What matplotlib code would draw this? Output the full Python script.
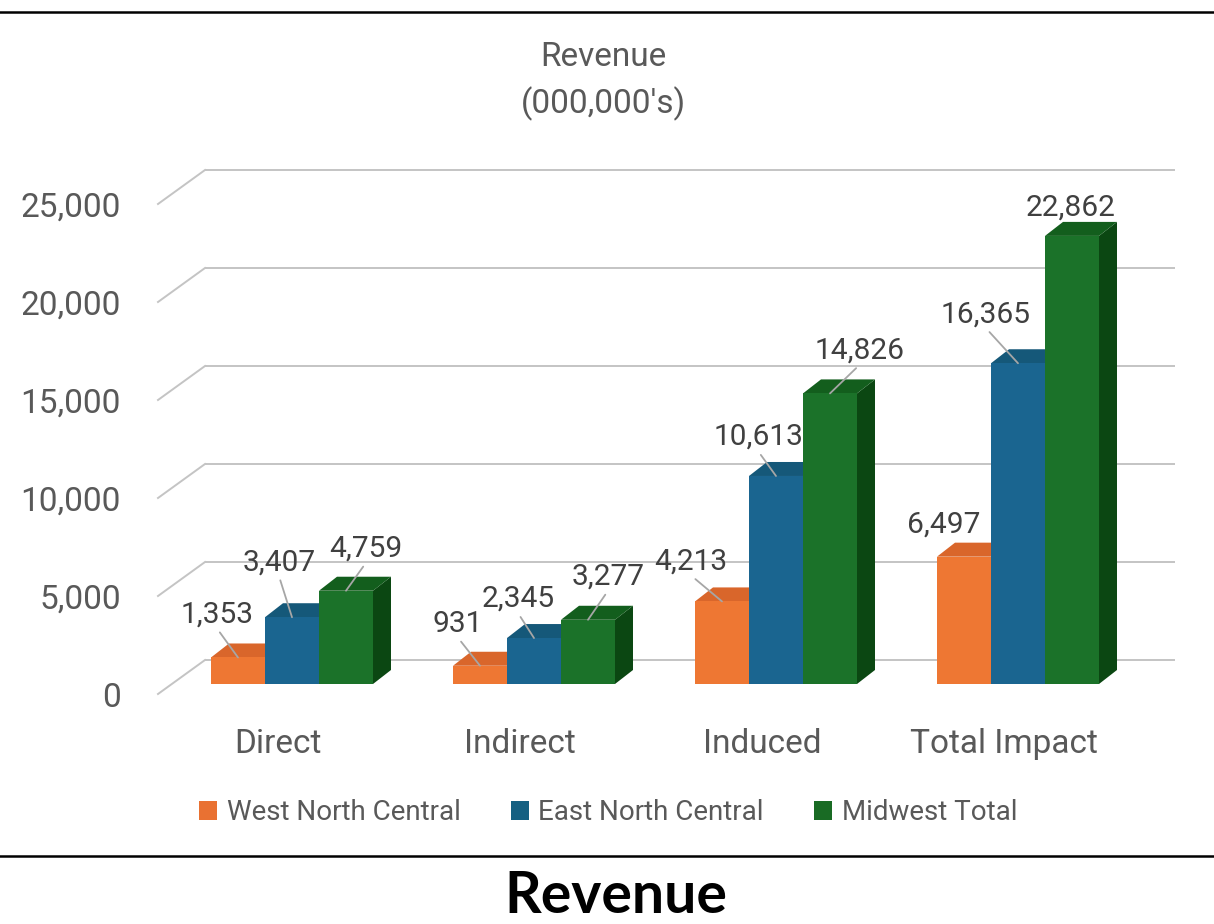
import numpy as np
import matplotlib.pyplot as plt
from matplotlib.patches import Polygon, Patch
from matplotlib.lines import Line2D

plt.rcParams['font.family'] = ['Roboto', 'DejaVu Sans']

# data
categories = ['Direct', 'Indirect', 'Induced', 'Total Impact']
series = ['West North Central', 'East North Central', 'Midwest Total']
west = [1353, 931, 4213, 6497]
east = [3407, 2345, 10613, 16365]
midwest = [4759, 3277, 14826, 22862]
yticks = [0, 5000, 10000, 15000, 20000, 25000]

# colours: front / top / side face of each series
c_front = ['#EE7733', '#1A6590', '#1B7229']
c_top = ['#D9662B', '#155879', '#135E1D']
c_side = ['#B8531F', '#0E3F5A', '#0B4712']
legend_c = ['#E97132', '#156082', '#196B24']

# label centre offsets (pixels, up positive) from each bar's top front centre
lab_off = [
    [(-21, 45), (-13, 57), (20, 44)],
    [(-22, 44), (-16, 41), (20, 45)],
    [(-31, 42), (-18, 41), (30, 45)],
    [(-20, 34), (-32, 51), (-1, 30)],
]
leader = [[1, 1, 1], [1, 1, 1], [1, 1, 1], [0, 1, 0]]

W, H = 1214, 924
fig = plt.figure(figsize=(W / 100, H / 100), dpi=100)
ax = fig.add_axes([0, 0, 1, 1])

# pixel layout -> data units
SP = 242.0          # px per category
K = 0.0196          # px per revenue unit
X0, Y0 = 292, 684   # px of cluster 0 centre / zero at bar front
ax.set_xlim((0 - X0) / SP, (W - X0) / SP)
ax.set_ylim((Y0 - H) / K, Y0 / K)
ax.axis('off')

def off(dx, dy):
    # pixel offset (x right, y down) to data offset
    return dx / SP, -dy / K

bw = 54 / SP
dep = off(18, -14)      # bar depth
wall = off(33, -24)     # back wall from bar front
front = off(-14, 10)    # floor front edge from bar front
wall_l = (205 - X0) / SP
wall_r = (1175 - X0) / SP

# gridlines on back wall + diagonal on left side
for v in yticks:
    yb = v + wall[1]
    ax.plot([wall_l, wall_r], [yb, yb], color='#C4C4C4', lw=1.4, zorder=1,
            solid_capstyle='butt')
    fx = wall_l - wall[0] + front[0]
    fy = v + front[1]
    ax.plot([wall_l, fx], [yb, fy], color='#C4C4C4', lw=1.4, zorder=1)
    ax.annotate(f'{v:,}', xy=(fx, fy), xytext=(-37, -13), textcoords='offset pixels',
                ha='right', va='baseline', fontsize=24, color='#595959')

# bars
vals = [west, east, midwest]
for i in range(len(categories)):
    for j in range(3):
        v = vals[j][i]
        x0 = i - 1.5 * bw + j * bw
        x1 = x0 + bw
        fr = Polygon([(x0, 0), (x1, 0), (x1, v), (x0, v)], closed=True,
                     fc=c_front[j], ec='none', zorder=2 + j)
        tp = Polygon([(x0, v), (x1, v), (x1 + dep[0], v + dep[1]), (x0 + dep[0], v + dep[1])],
                     closed=True, fc=c_top[j], ec='none', zorder=2 + j)
        sd = Polygon([(x1, 0), (x1 + dep[0], dep[1]), (x1 + dep[0], v + dep[1]), (x1, v)],
                     closed=True, fc=c_side[j], ec='none', zorder=2 + j)
        for p in (sd, tp, fr):
            ax.add_patch(p)
        dx, dy = lab_off[i][j]
        props = None
        if leader[i][j]:
            props = dict(arrowstyle='-', color='#A6A6A6', lw=1.3, relpos=(0.5, 0),
                         shrinkA=1, shrinkB=0)
        ax.annotate(f'{v:,}', xy=(x0 + bw / 2, v), xytext=(dx, dy - 10),
                    textcoords='offset pixels', ha='center', va='baseline',
                    fontsize=21.5, color='#404040', arrowprops=props, zorder=10)

# category labels
for i, c in enumerate(categories):
    ax.annotate(c, xy=(i + front[0], front[1]), xytext=(0, -59), textcoords='offset pixels',
                ha='center', va='baseline', fontsize=24, color='#595959')

# chart title
fig.text(603 / W, 1 - 66 / H, 'Revenue', ha='center', va='baseline', fontsize=24, color='#595959')
fig.text(603 / W, 1 - 113 / H, "(000,000's)", ha='center', va='baseline', fontsize=24, color='#595959')

# legend
handles = [Patch(fc=c, ec='none') for c in legend_c]
fig.legend(handles, series, loc='center', bbox_to_anchor=(608 / W, 1 - 813 / H), ncol=3,
           frameon=False, fontsize=20, labelcolor='#595959', handlelength=0.65,
           handleheight=0.65, handletextpad=0.35, columnspacing=1.8)

# frame lines and caption
fig.add_artist(Line2D([0, 1], [1 - 12 / H, 1 - 12 / H], color='black', lw=1.8))
fig.add_artist(Line2D([0, 1], [1 - 856 / H, 1 - 856 / H], color='black', lw=1.8))
fig.text(616 / W, 1 - 913 / H, 'Revenue', ha='center', va='baseline', fontsize=41,
         fontweight='bold', family=['Lato', 'DejaVu Sans'], color='black')

fig.savefig('out.png', dpi=100)
